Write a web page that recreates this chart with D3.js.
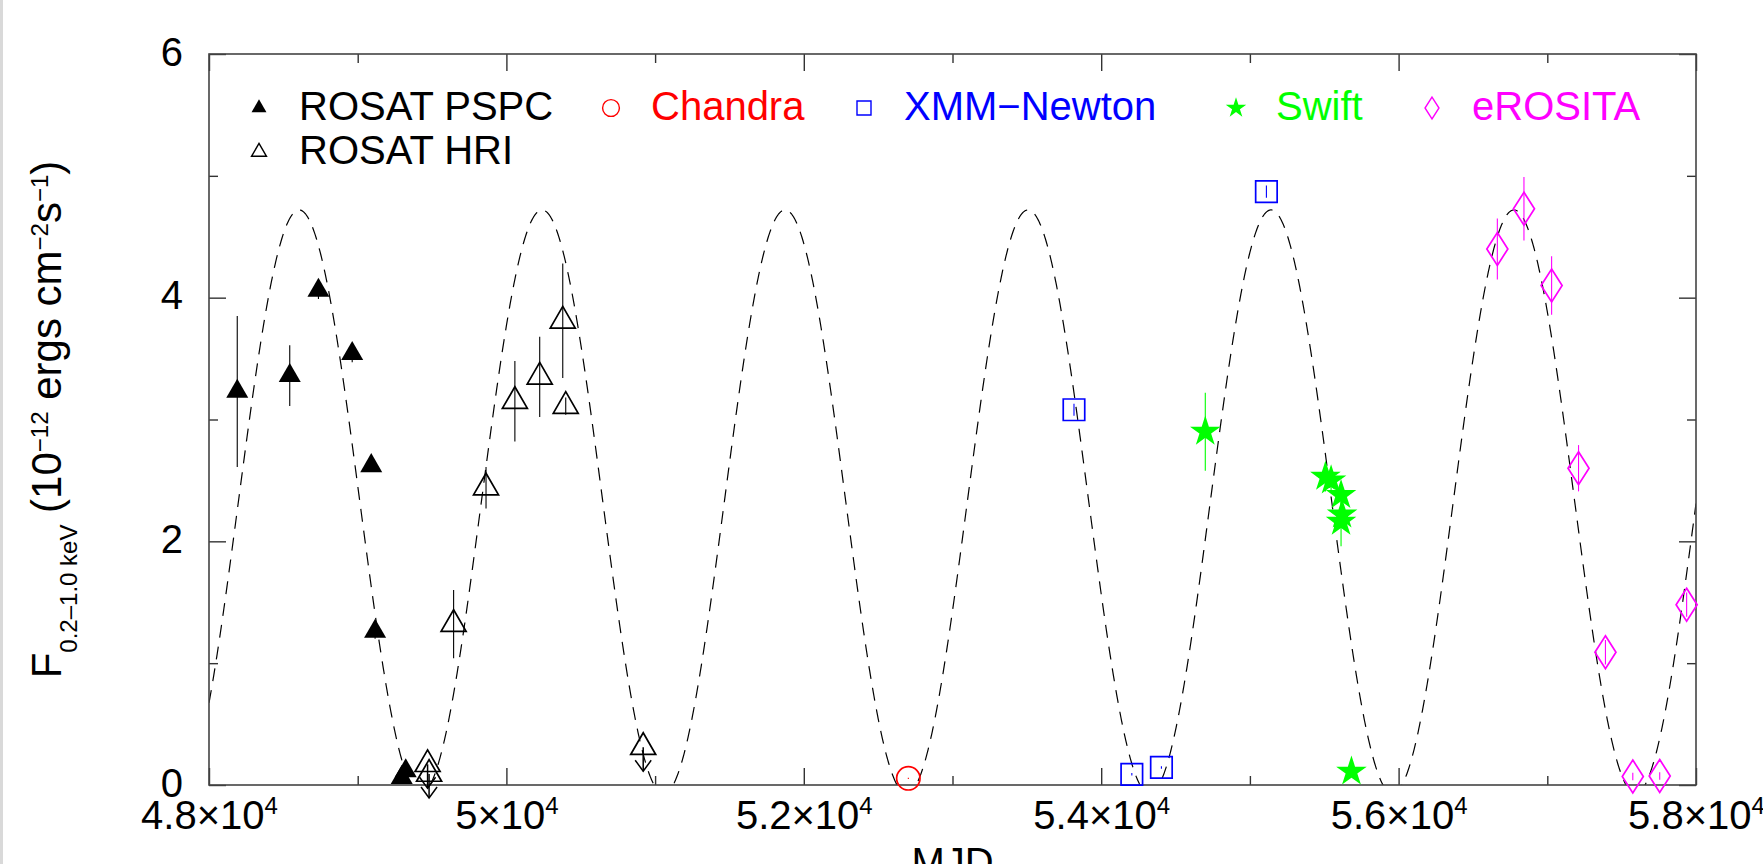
<!DOCTYPE html>
<html>
<head>
<meta charset="utf-8">
<script src="https://cdn.jsdelivr.net/npm/d3@7"></script>
<style>
html, body { margin: 0; padding: 0; background: #fff; }
svg { display: block; font-family: "Liberation Sans", Arial, Helvetica, sans-serif; }
</style>
</head>
<body>
<div id="chart"></div>
<script>
// ROSAT PSPC (filled triangles)
const pspcMjd  = [48190, 48543, 48736, 48963, 49091, 49117, 49296, 49323];
const pspcFlux = [3.23, 3.36, 4.06, 3.54, 2.62, 1.26, 0.06, 0.115];
const pspcErr  = [0.62, 0.25, 0.07, 0.07, 0.05, 0.06, 0.02, 0.02];

// ROSAT HRI (open triangles), 1 = upper limit
const hriMjd   = [49470, 49480, 49645, 49863, 50057, 50224, 50379, 50399, 50920];
const hriFlux  = [0.17, 0.09, 1.32, 2.44, 3.15, 3.35, 3.81, 3.11, 0.31];
const hriErr   = [0, 0, 0.28, 0.17, 0.33, 0.33, 0.47, 0.07, 0];
const hriLimit = [1, 1, 0, 0, 0, 0, 0, 0, 1];

// Chandra
const chandraMjd  = [52703];
const chandraFlux = [0.055];
const chandraErr  = [0.005];

// XMM-Newton
const xmmMjd  = [53817, 54206, 54405, 55111];
const xmmFlux = [3.08, 0.088, 0.144, 4.87];
const xmmErr  = [0.05, 0.01, 0.01, 0.05];

// Swift
const swiftMjd  = [54700, 55508, 55546, 55613, 55620, 55613, 55683];
const swiftFlux = [2.90, 2.53, 2.50, 2.38, 2.22, 2.16, 0.11];
const swiftErr  = [0.32, 0.12, 0.08, 0.08, 0.10, 0.20, 0.02];

// eROSITA
const eroMjd  = [56664, 56843, 57029, 57210, 57391, 57575, 57756, 57937];
const eroFlux = [4.40, 4.73, 4.10, 2.60, 1.09, 0.07, 0.074, 1.48];
const eroErr  = [0.25, 0.26, 0.24, 0.19, 0.10, 0.03, 0.03, 0.10];

// sinusoidal model: epoch of maximum, period (d), mean, semi-amplitude
const modelParams = [48606, 1634, 2.324, 2.396];

// axis ticks
const xMajor = [48000, 50000, 52000, 54000, 56000, 58000];
const xMinor = [49000, 51000, 53000, 55000, 57000];
const yMajor = [0, 2, 4, 6];
const yMinor = [1, 3, 5];

const W = 1763, H = 864;
const plotL = 209, plotR = 1696, plotT = 54, plotB = 785;

const svg = d3.select("#chart").append("svg")
    .attr("width", W)
    .attr("height", H);

// thin grey strip on the page edge
svg.append("rect").attr("x", 0).attr("y", 0).attr("width", 3).attr("height", H).attr("fill", "#d9d9d9");

const x = d3.scaleLinear().domain([48000, 58000]).range([plotL, plotR]);
const y = d3.scaleLinear().domain([0, 6]).range([plotB, plotT]);

svg.append("clipPath").attr("id", "plotclip")
  .append("rect")
    .attr("x", plotL).attr("y", plotT)
    .attr("width", plotR - plotL).attr("height", plotB - plotT);

// diamond symbol, size = bounding box area
const symbolDiamondTall = {
    draw(ctx, size) {
        const h = Math.sqrt(size / 0.64) / 2, w = 0.64 * h;
        ctx.moveTo(0, -h);
        ctx.lineTo(w, 0);
        ctx.lineTo(0, h);
        ctx.lineTo(-w, 0);
        ctx.closePath();
    }
};

const series = [
    {name: "ROSAT PSPC", mjd: pspcMjd, flux: pspcFlux, err: pspcErr, color: "#000000",
     type: d3.symbolTriangle, size: 210, fill: true, lsize: 97, lx: 259, row: 0},
    {name: "ROSAT HRI", mjd: hriMjd, flux: hriFlux, err: hriErr, limit: hriLimit, color: "#000000",
     type: d3.symbolTriangle, size: 271, fill: false, lsize: 97, lx: 259, row: 1},
    {name: "Chandra", mjd: chandraMjd, flux: chandraFlux, err: chandraErr, color: "#ff0000",
     type: d3.symbolCircle, size: 430, fill: false, lsize: 222, lx: 611, row: 0},
    {name: "XMM\u2212Newton", mjd: xmmMjd, flux: xmmFlux, err: xmmErr, color: "#0000ff",
     type: d3.symbolSquare, size: 462, fill: false, lsize: 196, lx: 864, row: 0},
    {name: "Swift", mjd: swiftMjd, flux: swiftFlux, err: swiftErr, color: "#00ff00",
     type: d3.symbolStar, size: 290, fill: true, lsize: 130, lx: 1236, row: 0},
    {name: "eROSITA", mjd: eroMjd, flux: eroFlux, err: eroErr, color: "#ff00ff",
     type: symbolDiamondTall, size: 693, fill: false, lsize: 306, lx: 1432, row: 0}
];

// ---- model curve ----
const model = t => modelParams[2] + modelParams[3] * Math.cos(2 * Math.PI * (t - modelParams[0]) / modelParams[1]);
const line = d3.line().x(t => x(t)).y(t => y(model(t)));
svg.append("path")
    .attr("clip-path", "url(#plotclip)")
    .attr("d", line(d3.range(48000, 58001, 4)))
    .attr("fill", "none")
    .attr("stroke", "#000")
    .attr("stroke-width", 1.2)
    .attr("stroke-dasharray", "13,9");

// ---- frame and ticks ----
function styleAxis(g) {
    g.select(".domain").remove();
    g.selectAll(".tick line").attr("stroke", "#333").attr("stroke-width", 1.4);
}

svg.append("g").attr("transform", `translate(0,${plotB})`)
    .call(d3.axisBottom(x).tickValues(xMinor).tickSize(-9).tickFormat(""))
    .call(styleAxis);
svg.append("g").attr("transform", `translate(0,${plotT})`)
    .call(d3.axisTop(x).tickValues(xMinor).tickSize(-9).tickFormat(""))
    .call(styleAxis);
svg.append("g").attr("transform", `translate(0,${plotT})`)
    .call(d3.axisTop(x).tickValues(xMajor).tickSize(-17).tickFormat(""))
    .call(styleAxis);
svg.append("g").attr("transform", `translate(${plotL},0)`)
    .call(d3.axisLeft(y).tickValues(yMinor).tickSize(-9).tickFormat(""))
    .call(styleAxis);
svg.append("g").attr("transform", `translate(${plotR},0)`)
    .call(d3.axisRight(y).tickValues(yMinor).tickSize(-9).tickFormat(""))
    .call(styleAxis);
svg.append("g").attr("transform", `translate(${plotR},0)`)
    .call(d3.axisRight(y).tickValues(yMajor).tickSize(-17).tickFormat(""))
    .call(styleAxis);

const xAxis = svg.append("g").attr("transform", `translate(0,${plotB})`)
    .call(d3.axisBottom(x).tickValues(xMajor).tickSize(-17).tickFormat(d => d / 1e4))
    .call(styleAxis);
xAxis.selectAll(".tick text")
    .attr("y", 44).attr("dy", null)
    .attr("font-size", 40).attr("font-family", null).attr("fill", "#000")
    .each(function(d) {
        const t = d3.select(this).text("");
        t.append("tspan").text((d / 1e4) + "\u00d710");
        t.append("tspan").attr("font-size", 24).attr("dy", -15).text("4");
    });

svg.append("g").attr("transform", `translate(${plotL},0)`)
    .call(d3.axisLeft(y).tickValues(yMajor).tickSize(-17).tickPadding(26).tickFormat(d3.format("d")))
    .call(styleAxis)
    .selectAll(".tick text")
    .attr("font-size", 40).attr("font-family", null).attr("fill", "#000")
    .attr("dy", "0.28em");

svg.append("rect")
    .attr("x", plotL).attr("y", plotT)
    .attr("width", plotR - plotL).attr("height", plotB - plotT)
    .attr("fill", "none").attr("stroke", "#444").attr("stroke-width", 1.6);

// ---- data ----
const symbol = d3.symbol();
series.forEach(s => {
    const g = svg.append("g");
    const pts = s.mjd.map((m, i) => ({m: m, f: s.flux[i], e: s.err[i], lim: s.limit ? s.limit[i] : 0}));

    // error bars
    g.selectAll("line.err").data(pts.filter(p => p.e > 0)).join("line")
        .attr("x1", p => x(p.m)).attr("x2", p => x(p.m))
        .attr("y1", p => y(p.f - p.e)).attr("y2", p => y(p.f + p.e))
        .attr("stroke", s.color).attr("stroke-width", 1.1);

    // upper-limit arrows
    const lims = pts.filter(p => p.lim);
    g.selectAll("line.lim").data(lims).join("line")
        .attr("x1", p => x(p.m)).attr("x2", p => x(p.m))
        .attr("y1", p => y(p.f)).attr("y2", p => y(p.f) + 24)
        .attr("stroke", s.color).attr("stroke-width", 1.5);
    g.selectAll("path.head").data(lims).join("path")
        .attr("d", p => {
            const px = x(p.m), ty = y(p.f) + 24;
            return `M${px - 8},${ty - 11}L${px},${ty}L${px + 8},${ty - 11}`;
        })
        .attr("fill", "none").attr("stroke", s.color).attr("stroke-width", 1.5);

    // markers
    g.selectAll("path.mk").data(pts).join("path")
        .attr("transform", p => `translate(${x(p.m)},${y(p.f)})`)
        .attr("d", symbol.type(s.type).size(s.size)())
        .attr("fill", s.fill ? s.color : "none")
        .attr("stroke", s.fill ? "none" : s.color)
        .attr("stroke-width", 1.7);
});

// ---- legend ----
series.forEach(s => {
    const cy = s.row === 0 ? 108 : 152;
    svg.append("path")
        .attr("transform", `translate(${s.lx},${cy})`)
        .attr("d", symbol.type(s.type).size(s.lsize)())
        .attr("fill", s.fill ? s.color : "none")
        .attr("stroke", s.fill ? "none" : s.color)
        .attr("stroke-width", 1.4);
    svg.append("text")
        .attr("x", s.lx + 40).attr("y", cy + 12)
        .attr("font-size", 40)
        .attr("fill", s.color)
        .text(s.name);
});

// ---- axis titles ----
svg.append("text")
    .attr("x", (plotL + plotR) / 2).attr("y", 876)
    .attr("text-anchor", "middle").attr("font-size", 40)
    .text("MJD");

const yl = svg.append("text")
    .attr("transform", `translate(61,${(plotT + plotB) / 2}) rotate(-90)`)
    .attr("text-anchor", "middle").attr("font-size", 42);
yl.append("tspan").text("F");
yl.append("tspan").attr("font-size", 24).attr("dy", 16).text("0.2\u20131.0 keV");
yl.append("tspan").attr("dy", -16).text(" (10");
yl.append("tspan").attr("font-size", 24).attr("dy", -13).text("\u221212");
yl.append("tspan").attr("dy", 13).text(" ergs cm");
yl.append("tspan").attr("font-size", 24).attr("dy", -13).text("\u22122");
yl.append("tspan").attr("dy", 13).text("s");
yl.append("tspan").attr("font-size", 24).attr("dy", -13).text("\u22121");
yl.append("tspan").attr("dy", 13).text(")");
</script>
</body>
</html>
